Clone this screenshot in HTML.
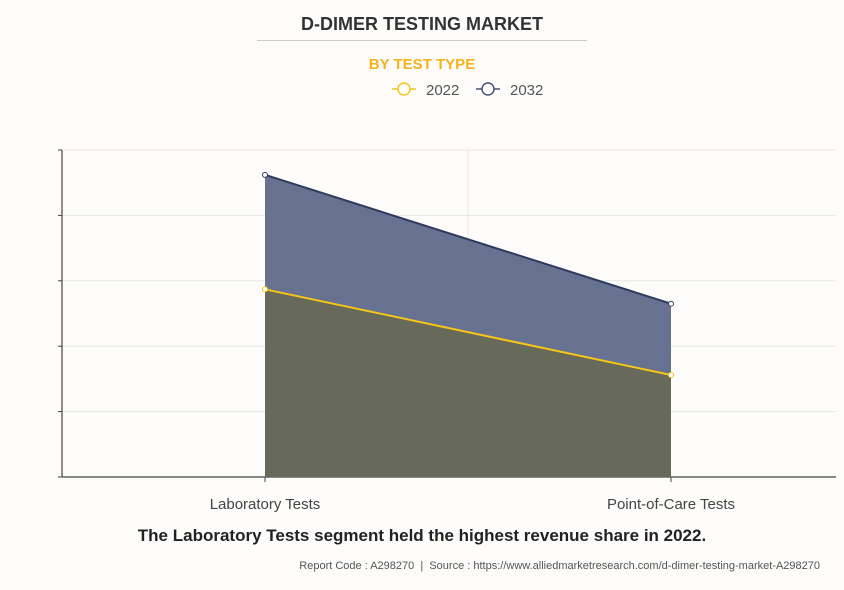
<!DOCTYPE html>
<html><head><meta charset="utf-8"><style>
body{margin:0;background:#fff;}
#wrap{width:844px;height:590px;position:relative;background:#fdfcfb;font-family:"Liberation Sans",sans-serif;overflow:hidden;}
.t{position:absolute;left:0;width:844px;text-align:center;}
</style></head><body>
<div id="wrap">
<div class="t" style="top:14px;font-size:18px;font-weight:bold;color:#333;">D-DIMER TESTING MARKET</div>
<div style="position:absolute;left:257px;top:40px;width:330px;height:1px;background:#ccc;"></div>
<div class="t" style="top:56px;font-size:15px;font-weight:bold;color:#f5b21c;">BY TEST TYPE</div>
<svg id="chart" width="844" height="590" style="position:absolute;left:0;top:0"></svg>
<div class="t" style="top:526px;font-size:17px;font-weight:bold;color:#222;">The Laboratory Tests segment held the highest revenue share in 2022.</div>
<div style="position:absolute;right:24px;top:560px;font-size:11px;color:#555;">Report Code : A298270 &nbsp;|&nbsp; Source : https://www.alliedmarketresearch.com/d-dimer-testing-market-A298270</div>
</div>
<script>
const categories=["Laboratory Tests","Point-of-Care Tests"];
const values2022=[2.87,1.56];
const values2032=[4.62,2.65];
const yTicks=[0,1,2,3,4,5];
const NS="http://www.w3.org/2000/svg";
const svg=document.getElementById('chart');
const x0=62,x1=836,yTop=150,yBot=477,yMax=5;
function xs(i){return 265+406*i;}
function ys(v){return yBot-(yBot-yTop)*v/yMax;}
function mk(t,a,name){const e=document.createElementNS(NS,t);for(const k in a)e.setAttribute(k,a[k]);


svg.appendChild(e);return e;}
yTicks.forEach(v=>{
  mk('line',{x1:x0,x2:x1,y1:ys(v),y2:ys(v),stroke:v===0?'#444':'#e6e6e6','stroke-width':v===0?1.2:1},'y-gridline');
  mk('line',{x1:x0-4,x2:x0,y1:ys(v),y2:ys(v),stroke:'#444'},'y-tick');
});
mk('line',{x1:468,x2:468,y1:yTop,y2:yBot,stroke:'#e6e6e6'},'x-gridline');
mk('line',{x1:x0,x2:x0,y1:yTop,y2:yBot,stroke:'#444','stroke-width':1.2},'y-axis');
categories.forEach((c,i)=>{
  mk('line',{x1:xs(i),x2:xs(i),y1:yBot,y2:yBot+5,stroke:'#444'},'x-tick');
  const t=mk('text',{x:xs(i),y:yBot+32,'text-anchor':'middle','font-size':15,fill:'#444','font-family':'Liberation Sans, sans-serif'},'x-tick-label');t.textContent=c;
});
function area(vals,fill,stroke,name){
  let d='M'+xs(0)+','+yBot;vals.forEach((v,i)=>d+=' L'+xs(i)+','+ys(v));d+=' L'+xs(vals.length-1)+','+yBot+' Z';
  mk('path',{d:d,fill:fill},name+'-area');
  mk('polyline',{points:vals.map((v,i)=>xs(i)+','+ys(v)).join(' '),fill:'none',stroke:stroke,'stroke-width':2},name+'-line');
}
area(values2032,'#677190','#2f3a5e','series-2032');
area(values2022,'#676a5b','#f5c518','series-2022');
values2032.forEach((v,i)=>mk('circle',{cx:xs(i),cy:ys(v),r:2.5,fill:'#fff',stroke:'#2f3a5e'},'point-2032'));
values2022.forEach((v,i)=>mk('circle',{cx:xs(i),cy:ys(v),r:2.5,fill:'#fff',stroke:'#f5c518'},'point-2022'));
[[392,'#f5c518','2022'],[476,'#4a5278','2032']].forEach(([x,c,l])=>{
  mk('line',{x1:x,x2:x+24,y1:89,y2:89,stroke:c,'stroke-width':1.5},'legend-line-'+l);
  mk('circle',{cx:x+12,cy:89,r:6,fill:'#fff',stroke:c,'stroke-width':1.5},'legend-marker-'+l);
  const t=mk('text',{x:x+34,y:95,'font-size':15,fill:'#555','font-family':'Liberation Sans, sans-serif'},'legend-label-'+l);t.textContent=l;
});
</script>
</body></html>
